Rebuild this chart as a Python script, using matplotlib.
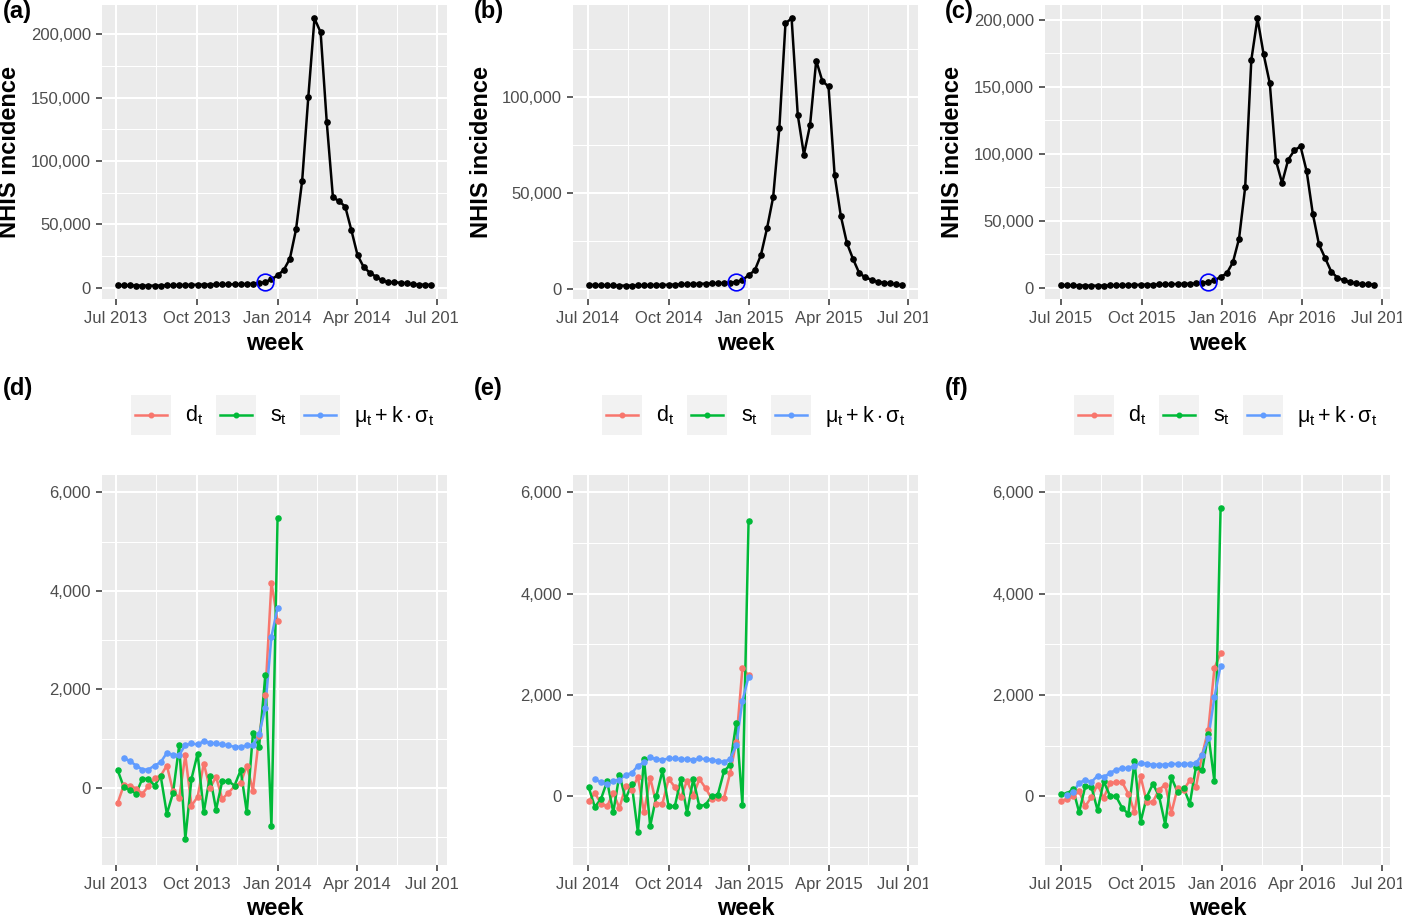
import numpy as np
import pandas as pd
import matplotlib
matplotlib.use('Agg')
import matplotlib.pyplot as plt
import matplotlib.dates as mdates
from matplotlib.ticker import FuncFormatter, MultipleLocator
from matplotlib.patches import Rectangle
from matplotlib.lines import Line2D
from matplotlib.legend_handler import HandlerBase
from matplotlib.transforms import Bbox, TransformedBbox

plt.rcParams['font.family'] = ['Liberation Sans', 'DejaVu Sans']
plt.rcParams['mathtext.fontset'] = 'custom'
plt.rcParams['mathtext.rm'] = 'Liberation Sans'
plt.rcParams['mathtext.it'] = 'Liberation Sans:italic'
plt.rcParams['mathtext.bf'] = 'Liberation Sans:bold'

# season start (first weekly point)
season_start = ['2013-07-03', '2014-07-02', '2015-07-01']
season_year = [2013, 2014, 2015]
onset_week = [24, 24, 24]

# weekly NHIS incidence, panels (a)-(c)
nhis_a = [2000, 1800, 1750, 1700, 1650, 1600, 1600, 1700, 1800, 1950, 2050, 2100,
          2250, 2300, 2350, 2450, 2500, 2550, 2600, 2650, 2700, 2850, 3050, 3400,
          4460, 6560, 9710, 13900, 22840, 45940, 84520, 150680, 212620, 201600, 130460, 71400,
          68250, 64050, 45410, 25720, 16280, 11810, 8660, 5780, 4200, 4200, 3940, 3410,
          2630, 2360, 2360, 2100]
nhis_b = [2200, 2100, 2000, 1950, 1900, 1850, 1800, 1850, 1900, 2000, 2050, 2150,
          2200, 2250, 2350, 2450, 2550, 2650, 2750, 2850, 2950, 3050, 3150, 3300,
          3810, 4680, 7280, 9700, 17680, 31710, 48000, 83880, 138640, 141240, 90810, 70190,
          85610, 119230, 108490, 105710, 59270, 38130, 23910, 15600, 8320, 6070, 4850, 3810,
          3290, 2950, 2430, 1910]
nhis_c = [1750, 1700, 1650, 1600, 1550, 1500, 1500, 1550, 1650, 1750, 1850, 1950,
          2050, 2150, 2200, 2300, 2400, 2500, 2600, 2700, 2800, 2950, 3100, 3500,
          4220, 5460, 7950, 10680, 18880, 36510, 75020, 170150, 201200, 174380, 152770, 94890,
          78250, 95630, 102590, 105570, 86940, 55140, 32290, 22110, 11920, 7450, 5460, 4220,
          3230, 2480, 2480, 2240]

# panels (d)-(f): d_t, s_t (weeks 0-26) and mu_t + k*sigma_t (weeks 1-26)
d_d = [-305, 54, 47, -14, -122, 34, 197, 250, 454, -68, -203, 658, -359, -183,
       495, -7, 224, -224, -102, 34, 102, 454, -54, 1050, 1886, 4170, 3390]
s_d = [359, 14, -34, -115, 183, 183, 47, 237, -529, -102, 861, -1031, 183, 698,
       -495, 237, -441, 136, 136, 47, 359, -495, 1119, 837, 2285, -780, 5480]
thr_d = [610, 542, 454, 373, 373, 454, 522, 712, 671, 664, 875, 902, 881,
         949, 915, 902, 881, 861, 834, 834, 861, 861, 1085, 1627, 3071, 3660]

d_e = [-98, 66, -144, -197, 66, -230, 197, 131, 380, -315, 367, -144, -144, 348,
       184, -13, 308, 13, 341, 164, -46, -33, -33, 459, 1082, 2531, 2386]
s_e = [177, -210, -52, 295, -315, 426, -52, 243, -710, 734, -590, 0, 511, -197,
       -197, 341, -328, 341, -197, -164, 0, 33, 492, 623, 1456, -164, 5428]
thr_e = [341, 275, 243, 308, 328, 426, 459, 603, 669, 767, 734, 721, 747,
         747, 734, 734, 721, 747, 734, 721, 695, 682, 734, 1010, 1890, 2359]

d_f = [-98, -52, 0, 98, -197, -13, 230, -33, 262, 275, 275, 52, -308, 393,
       -118, -105, 131, 230, -328, 164, 131, 315, 184, 820, 1311, 2531, 2828]
s_f = [52, 52, 144, -315, 197, 184, -275, 295, 13, 0, -230, -348, 688, -505,
       -13, 249, 0, -557, 374, 85, 164, -144, 577, 511, 1233, 295, 5683]
thr_f = [33, 79, 262, 328, 282, 407, 380, 459, 525, 557, 557, 603, 656,
         643, 623, 623, 623, 643, 636, 636, 643, 656, 820, 1147, 1954, 2580]

top_data = [nhis_a, nhis_b, nhis_c]
bot_data = [(d_d, s_d, thr_d), (d_e, s_e, thr_e), (d_f, s_f, thr_f)]
bot_ylim = [(-1560, 6360), (-1350, 6350), (-1350, 6350)]
top_major = [50000, 50000, 50000]
top_labels = ['(a)', '(b)', '(c)']
bot_labels = ['(d)', '(e)', '(f)']
series_colors = ['#F8766D', '#00BA38', '#619CFF']
series_names = [r'$\mathrm{d}_\mathrm{t}$', r'$\mathrm{s}_\mathrm{t}$',
                r'$\mathrm{\mu}_\mathrm{t}+\mathrm{k}\cdot\mathrm{\sigma}_\mathrm{t}$']

W, H = 1402, 917
fig = plt.figure(figsize=(W / 100, H / 100), dpi=100)


def px_axes(x0, y0, x1, y1):
    return fig.add_axes([x0 / W, 1 - y1 / H, (x1 - x0) / W, (y1 - y0) / H])


def style(ax):
    ax.set_facecolor('#EBEBEB')
    for s in ax.spines.values():
        s.set_visible(False)
    ax.grid(which='major', color='white', lw=1.5)
    ax.grid(which='minor', color='white', lw=0.75)
    ax.set_axisbelow(True)
    ax.tick_params(which='major', length=4, width=1.1, color='#333333',
                   labelcolor='#4D4D4D', labelsize=12)
    ax.tick_params(axis='x', which='major', pad=4.8)
    ax.tick_params(axis='y', which='major', pad=4.0)
    ax.tick_params(which='minor', length=0)
    ax.yaxis.set_major_formatter(FuncFormatter(lambda v, p: f'{v:,.0f}'))


def date_axis(ax, year, dnum, clip_x):
    ticks = [pd.Timestamp(year, 7, 1), pd.Timestamp(year, 10, 1), pd.Timestamp(year + 1, 1, 1),
             pd.Timestamp(year + 1, 4, 1), pd.Timestamp(year + 1, 7, 1)]
    tnum = mdates.date2num([t.to_pydatetime() for t in ticks])
    ax.set_xticks(tnum)
    ax.set_xticklabels([t.strftime('%b %Y') for t in ticks])
    ax.set_xticks((tnum[:-1] + tnum[1:]) / 2, minor=True)
    span = dnum[-1] - dnum[0]
    ax.set_xlim(dnum[0] - 0.05 * span, dnum[-1] + 0.05 * span)
    clip = TransformedBbox(Bbox.from_extents(0, 0, clip_x / W, 1), fig.transFigure)
    for lbl in ax.get_xticklabels():
        lbl.set_clip_box(clip)
        lbl.set_clip_on(True)


class KeyHandler(HandlerBase):
    def create_artists(self, legend, orig_handle, xdescent, ydescent, width, height, fontsize, trans):
        bg = Rectangle((-xdescent, -ydescent), width, height, facecolor='#F2F2F2',
                       edgecolor='none', transform=trans)
        yc = -ydescent + height / 2
        x0 = -xdescent + 0.1 * width
        x1 = -xdescent + 0.9 * width
        ln = Line2D([x0, x1], [yc, yc], color=orig_handle.get_color(),
                    lw=orig_handle.get_linewidth(), transform=trans)
        pt = Line2D([(x0 + x1) / 2], [yc], marker='o', ms=orig_handle.get_markersize(),
                    color=orig_handle.get_color(), lw=0, transform=trans)
        return [bg, ln, pt]


lefts = [102, 573, 1045]
col_x = [3, 474, 945]
ylab_x = [10, 481, 953]
clips = [458, 928, 1402]

for k in range(3):
    dates = pd.date_range(season_start[k], periods=52, freq='7D')
    dnum = mdates.date2num(dates.to_pydatetime())
    x0 = lefts[k]
    x1 = x0 + 345
    xc = (x0 + x1) / 2

    # top row: incidence curve
    ax = px_axes(x0, 5, x1, 299)
    style(ax)
    vals = top_data[k]
    ax.plot(dnum, vals, color='black', lw=1.8, marker='o', ms=3.8)
    ax.plot(dnum[onset_week[k]], vals[onset_week[k]], 'o', ms=12, mfc='none',
            mec='blue', mew=1.2, zorder=4)
    ax.yaxis.set_major_locator(MultipleLocator(top_major[k]))
    ax.yaxis.set_minor_locator(MultipleLocator(top_major[k] / 2))
    date_axis(ax, season_year[k], dnum, clips[k])
    fig.text(ylab_x[k] / W, 1 - 152 / H, 'NHIS incidence', rotation=90, ha='center',
             va='center', fontsize=17, fontweight='bold')
    fig.text(xc / W, 1 - 350 / H, 'week', ha='center', va='baseline',
             fontsize=17, fontweight='bold')
    fig.text(col_x[k] / W, 1 - 18 / H, top_labels[k], ha='left', va='baseline',
             fontsize=17, fontweight='bold')

    # bottom row: detection statistics
    ax = px_axes(x0, 474.7, x1, 864.7)
    style(ax)
    d_t, s_t, thr = bot_data[k]
    xs = [dnum[:27], dnum[:27], dnum[1:27]]
    ys = [d_t, s_t, thr]
    for xv, yv, c in zip(xs, ys, series_colors):
        ax.plot(xv, yv, color=c, lw=1.8, zorder=2)
    for xv, yv, c in zip(xs, ys, series_colors):
        ax.plot(xv, yv, 'o', color=c, ms=3.7, zorder=3)
    ax.set_ylim(*bot_ylim[k])
    ax.yaxis.set_major_locator(MultipleLocator(2000))
    ax.yaxis.set_minor_locator(MultipleLocator(1000))
    date_axis(ax, season_year[k], dnum, clips[k])
    handles = [Line2D([], [], color=c, lw=1.8, ms=3.3) for c in series_colors]
    ax.legend(handles, series_names, handler_map={Line2D: KeyHandler()}, ncol=3,
              loc='center', bbox_to_anchor=(0.523, 1.153), frameon=False, fontsize=15.5,
              handlelength=1.86, handleheight=2.5, handletextpad=0.65,
              columnspacing=0.6, borderaxespad=0, borderpad=0)
    fig.text(xc / W, 1 - 915 / H, 'week', ha='center', va='baseline',
             fontsize=17, fontweight='bold')
    fig.text(col_x[k] / W, 1 - 395 / H, bot_labels[k], ha='left', va='baseline',
             fontsize=17, fontweight='bold')

fig.savefig('out.png', dpi=100)
